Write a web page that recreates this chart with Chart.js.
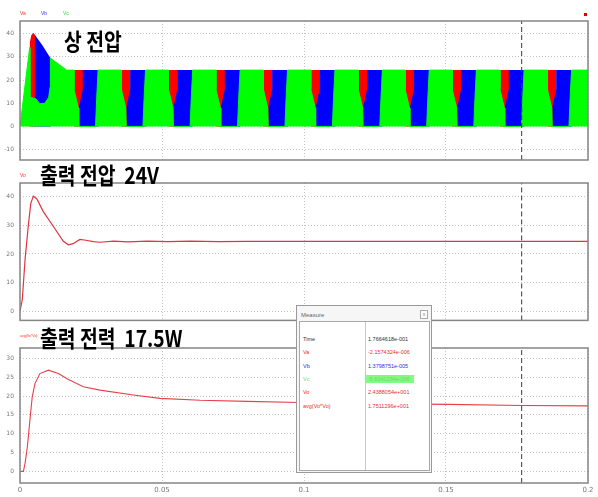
<!DOCTYPE html>
<html>
<head>
<meta charset="utf-8">
<script src="https://cdn.jsdelivr.net/npm/chart.js@4.4.1/dist/chart.umd.min.js"></script>
<style>
  body { margin: 0; background: #fff; }
  #wrap { position: relative; width: 598px; height: 497px; overflow: hidden; font-family: "Liberation Sans", sans-serif; }
  canvas { position: absolute; left: 0; }
  .title { position: absolute; font-family: "Noto Sans CJK KR"; font-weight: 700; font-size: 23px; line-height: 23px;
           color: #000; white-space: pre; transform: scaleX(0.84); transform-origin: 0 0; z-index: 5; }
  .leg { position: absolute; font-size: 5px; line-height: 5px; z-index: 5; }
  #measure { position: absolute; left: 296px; top: 305px; width: 134px; height: 166px; border: 1px solid #9a9a9a;
             background: #f6f6f6; z-index: 6; }
  #measure .mt { position: absolute; left: 4px; top: 6px; font-size: 6px; color: #666; }
  #measure .mx { position: absolute; right: 3px; top: 4px; width: 6px; height: 7px; border: 1px solid #aaa;
                 font-size: 5px; line-height: 7px; text-align: center; color: #777; background: #fff; }
  #mtable { position: absolute; left: 2px; top: 15px; width: 129px; height: 148px; border: 1px solid #a8a8a8; background: #fff; }
  #mtable .div { position: absolute; left: 65px; top: 0; width: 1px; height: 148px; background: #c8c8c8; }
  .row { position: absolute; left: 0; width: 129px; height: 8px; font-size: 5.5px; line-height: 8px; }
  .row .n { position: absolute; left: 3px; }
  .row .v { position: absolute; left: 66px; width: 46px; padding-left: 2px; }
</style>
</head>
<body>
<div id="wrap">
  <canvas id="phaseChart" width="598" height="170" style="top:0px"></canvas>
  <canvas id="voChart" width="598" height="160" style="top:170px"></canvas>
  <canvas id="powerChart" width="598" height="167" style="top:330px"></canvas>

  <div class="title" style="left:64px; top:29px">상 전압</div>
  <div class="title" style="left:40px; top:163px">출력 전압  24V</div>
  <div class="title" style="left:40px; top:326px">출력 전력  17.5W</div>

  <div class="leg" style="left:20px; top:11px; color:#ff3030">Va</div>
  <div class="leg" style="left:41px; top:11px; color:#3030ff">Vb</div>
  <div class="leg" style="left:63px; top:11px; color:#40e040">Vc</div>
  <div class="leg" style="left:20px; top:173px; color:#ff3030">Vo</div>
  <div class="leg" style="left:20px; top:334px; color:#ff3030; font-size:3.5px">avg(Vo*Vo)</div>
  <div style="position:absolute; left:584px; top:13px; width:3px; height:3px; background:#e00000"></div>

  <div id="measure">
    <div class="mt">Measure</div>
    <div class="mx">x</div>
    <div id="mtable"><div class="div"></div></div>
  </div>
</div>

<script>
// shared time axis
const xTicks = [0, 0.05, 0.1, 0.15, 0.2];
const xTickLabels = ["0", "0.05", "0.1", "0.15", "0.2"];
const cursorTime = 0.17665;

// phase voltages (Va red, Vb blue, Vc green)
const phaseTicks = [-10, 0, 10, 20, 30, 40];
const blockStarts = [0.0190, 0.0357, 0.0523, 0.0690, 0.0857, 0.1024, 0.1191, 0.1356, 0.1522, 0.1690, 0.1857];

const greenStartT = [0, 0.0034, 0.0035, 0.0055, 0.0070, 0.0087, 0.0101, 0.0106, 0.0107, 0.0164];
const greenStartV = [0, 34, 12.5, 12, 9.8, 10, 12.5, 17, 29.5, 24.3];
const greenNotchT = [0, 0, 0.00155, 0.0017, 0.0076, 0.0080, 0.0085];
const greenNotchV = [24.3, 16, 8, 0, 0, 12, 24.3];
const greenEndT = [0.2];
const greenEndV = [24.3];

const blueStartT = [0.0052, 0.0052, 0.0080, 0.0107, 0.0108];
const blueStartV = [0, 39.6, 34.8, 29.5, 0];
const blueBlockT = [0.0018, 0.0018, 0.0031, 0.0031, 0.0086, 0.0086];
const blueBlockV = [0, 8.5, 16, 24.3, 24.3, 0];

const redStartT = [0.0034, 0.0034, 0.0040, 0.0047, 0.0053, 0.0054];
const redStartV = [0, 36, 39.5, 40.3, 39.5, 0];
const redBlockT = [0, 0, 0.0032, 0.0032];
const redBlockV = [0, 24.3, 24.3, 0];

// output voltage
const voTicks = [0, 10, 20, 30, 40];
const voT = [0, 0.0008, 0.0018, 0.0029, 0.0038, 0.0047, 0.0059, 0.0082, 0.0117, 0.0152, 0.0170, 0.0187, 0.0211,
             0.0232, 0.0258, 0.0282, 0.033, 0.038, 0.045, 0.052, 0.06, 0.07, 0.08, 0.1, 0.12, 0.14, 0.16, 0.18, 0.2];
const voV = [0, 4, 18.3, 29.7, 37.7, 40.2, 39.3, 34.8, 29.7, 24.5, 23.2, 23.6, 25.1,
             24.8, 24.3, 24.1, 24.5, 24.2, 24.5, 24.3, 24.5, 24.3, 24.4, 24.4, 24.4, 24.4, 24.4, 24.4, 24.4];

// output power avg(Vo*Io)
const powerTicks = [0, 5, 10, 15, 20, 25, 30];
const powerT = [0, 0.0012, 0.0018, 0.0026, 0.0035, 0.0043, 0.0053, 0.0070, 0.0100, 0.0135, 0.0164, 0.0223,
                0.0282, 0.0399, 0.0493, 0.0634, 0.0800, 0.0986, 0.1250, 0.1510, 0.1766, 0.2];
const powerV = [0, 0, 2.2, 6.6, 13.7, 19.8, 23.4, 26.0, 26.9, 26.0, 24.7, 22.5,
                21.6, 20.3, 19.4, 18.9, 18.6, 18.3, 18.0, 17.8, 17.5, 17.4];

// measure window
const measureNames = ["Time", "Va", "Vb", "Vc", "Vo", "avg(Vo*Vo)"];
const measureValues = ["1.7664618e-001", "-2.1574324e-006", "1.3798751e-005", "-5.6141234e-006", "2.4388054e+001", "1.7511296e+001"];
const measureColors = ["#333", "#e83030", "#3030e0", "#7ad07a", "#e83030", "#e83030"];

const toPoints = (ts, vs) => ts.map((t, i) => ({ x: t, y: vs[i] }));
const repeatBlocks = (starts, ts, vs) => starts.flatMap(s => ts.map((t, i) => ({ x: s + t, y: vs[i] })));

const framePlugin = {
    id: "frame",
    afterDraw(chart) {
        const { ctx, chartArea: a } = chart;
        ctx.save();
        ctx.strokeStyle = "#858585";
        ctx.lineWidth = 1.5;
        ctx.strokeRect(a.left, a.top, a.right - a.left, a.bottom - a.top);
        ctx.restore();
    }
};

function cursorDataset (yMin, yMax) {
    return {
        data: [{ x: cursorTime, y: yMin }, { x: cursorTime, y: yMax }],
        borderColor: "#3a3a3a",
        borderWidth: 1,
        borderDash: [5, 3],
        fill: false,
        order: 0
    };
}

function createPanel (canvas, { yMin, yMax, yTicks, datasets, showX, padTop, padBottom }) {
    const graph = new Chart(canvas, {
        type: "line",
        data: { datasets: datasets.concat([cursorDataset(yMin, yMax)]) },
        options: {
            responsive: false,
            animation: false,
            devicePixelRatio: 1,
            events: [],
            layout: { padding: { left: 0, right: 10, top: padTop, bottom: padBottom } },
            elements: { point: { radius: 0 }, line: { tension: 0 } },
            scales: {
                x: {
                    type: "linear",
                    min: 0,
                    max: 0.2,
                    afterBuildTicks: (scale) => { scale.ticks = xTicks.map(v => ({ value: v })); },
                    afterFit: (scale) => { scale.height = showX ? 14 : 0; },
                    ticks: {
                        display: showX,
                        autoSkip: false,
                        maxRotation: 0,
                        padding: 3,
                        color: "#777",
                        font: { size: 7, family: "DejaVu Sans" },
                        callback: (value, index) => xTickLabels[index]
                    },
                    grid: { color: "#c4c4c4", drawTicks: false },
                    border: { display: false, dash: [1, 2] }
                },
                y: {
                    min: yMin,
                    max: yMax,
                    afterBuildTicks: (scale) => { scale.ticks = yTicks.map(v => ({ value: v })); },
                    afterFit: (scale) => { scale.width = 20; },
                    ticks: {
                        padding: 6,
                        color: "#777",
                        font: { size: 6, family: "DejaVu Sans" }
                    },
                    grid: { color: "#c4c4c4", drawTicks: false },
                    border: { display: false, dash: [1, 2] }
                }
            },
            plugins: {
                legend: { display: false },
                tooltip: { enabled: false }
            }
        },
        plugins: [framePlugin]
    });
    return graph;
}

const greenPoints = toPoints(greenStartT, greenStartV)
    .concat(repeatBlocks(blockStarts, greenNotchT, greenNotchV))
    .concat(toPoints(greenEndT, greenEndV));
const bluePoints = toPoints(blueStartT, blueStartV).concat(repeatBlocks(blockStarts, blueBlockT, blueBlockV));
const redPoints = toPoints(redStartT, redStartV).concat(repeatBlocks(blockStarts, redBlockT, redBlockV));

createPanel(document.getElementById("phaseChart"), {
    yMin: -14.5, yMax: 45.5, yTicks: phaseTicks, showX: false, padTop: 21, padBottom: 10,
    datasets: [
        { data: greenPoints, fill: "origin", backgroundColor: "#00ff00", borderColor: "#00ff00", borderWidth: 1, order: 1 },
        { data: bluePoints, fill: "origin", backgroundColor: "#0000ff", borderColor: "#0000ff", borderWidth: 0, order: 2 },
        { data: redPoints, fill: "origin", backgroundColor: "#ff0000", borderColor: "#ff0000", borderWidth: 0, order: 3 }
    ]
});

createPanel(document.getElementById("voChart"), {
    yMin: -3.2, yMax: 44.8, yTicks: voTicks, showX: false, padTop: 13, padBottom: 7,
    datasets: [
        { data: toPoints(voT, voV), fill: false, borderColor: "#e2343c", borderWidth: 1.2, order: 1 }
    ]
});

createPanel(document.getElementById("powerChart"), {
    yMin: -3.1, yMax: 32.8, yTicks: powerTicks, showX: true, padTop: 18, padBottom: 0,
    datasets: [
        { data: toPoints(powerT, powerV), fill: false, borderColor: "#e8404a", borderWidth: 1.1, order: 1 }
    ]
});

// measure table rows
const mtable = document.getElementById("mtable");
measureNames.forEach((name, i) => {
    const row = document.createElement("div");
    row.className = "row";
    row.style.top = (13 + i * 13.3) + "px";
    const highlight = name === "Vc" ? "background:#7dff7d;" : "";
    row.innerHTML = `<span class="n" style="color:${measureColors[i]}">${name}</span>` +
                    `<span class="v" style="color:${measureColors[i]};${highlight}">${measureValues[i]}</span>`;
    mtable.appendChild(row);
});
</script>
</body>
</html>
